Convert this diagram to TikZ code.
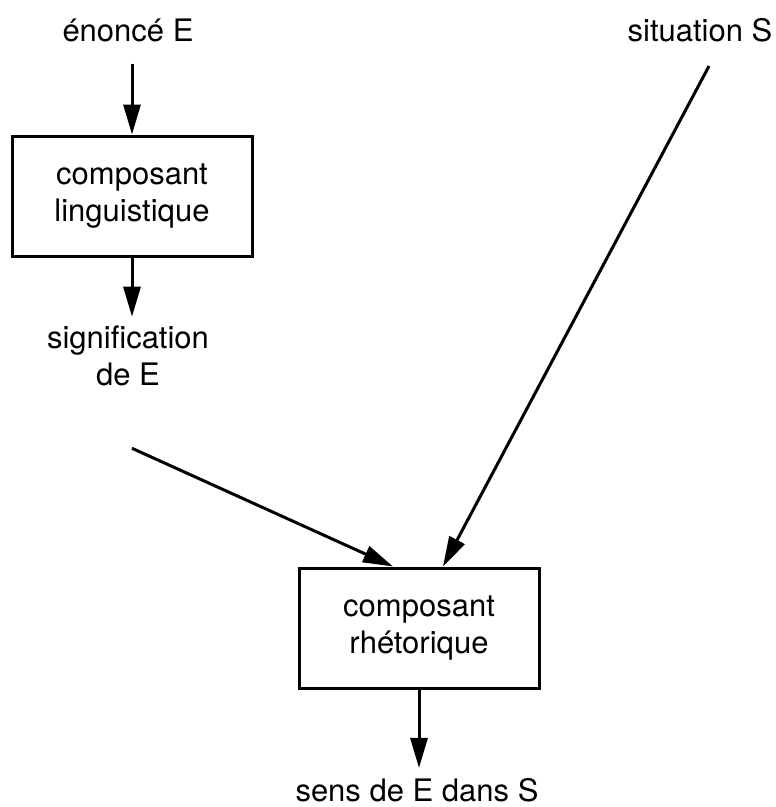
\documentclass[tikz,border=0pt]{standalone}
\usepackage{fontspec}
\setmainfont{TeX Gyre Heros}
\usetikzlibrary{arrows.meta}
\tikzset{
  bloc/.style={draw, line width=3pt, minimum width=240pt, minimum height=120pt, align=center},
  etiq/.style={align=center, inner sep=0pt},
  fleche/.style={line width=3pt, -{Triangle[length=30pt,width=17pt]}}
}
\begin{document}
\begin{tikzpicture}[x=1pt, y=-1pt, font=\fontsize{31}{37}\selectfont]
    \useasboundingbox (0,0) rectangle (776,807);

    \node[etiq] (enonce) at (128,30) {énoncé E};
    \node[etiq] (situation) at (700,30) {situation S};
    \node[bloc] (ling) at (132,196) {composant\\linguistique};
    \node[etiq] (signif) at (128,356) {signification\\de E};
    \node[bloc] (rhet) at (419,628) {composant\\rhétorique};
    \node[etiq] (sens) at (417,790) {sens de E dans S};

    \draw[fleche, shorten <=22pt] (enonce.south -| ling.north) -- (ling.north);
    \draw[fleche, shorten >=9pt] (ling.south) -- (ling.south |- signif.north);
    \draw[fleche] ([shift={(4,62)}]signif.south) -- ([xshift=-26]rhet.north);
    \draw[fleche] ([shift={(9,24)}]situation.south) -- ([xshift=24]rhet.north);
    \draw[fleche, shorten >=10pt] (rhet.south) -- (rhet.south |- sens.north);
  \end{tikzpicture}
\end{document}
